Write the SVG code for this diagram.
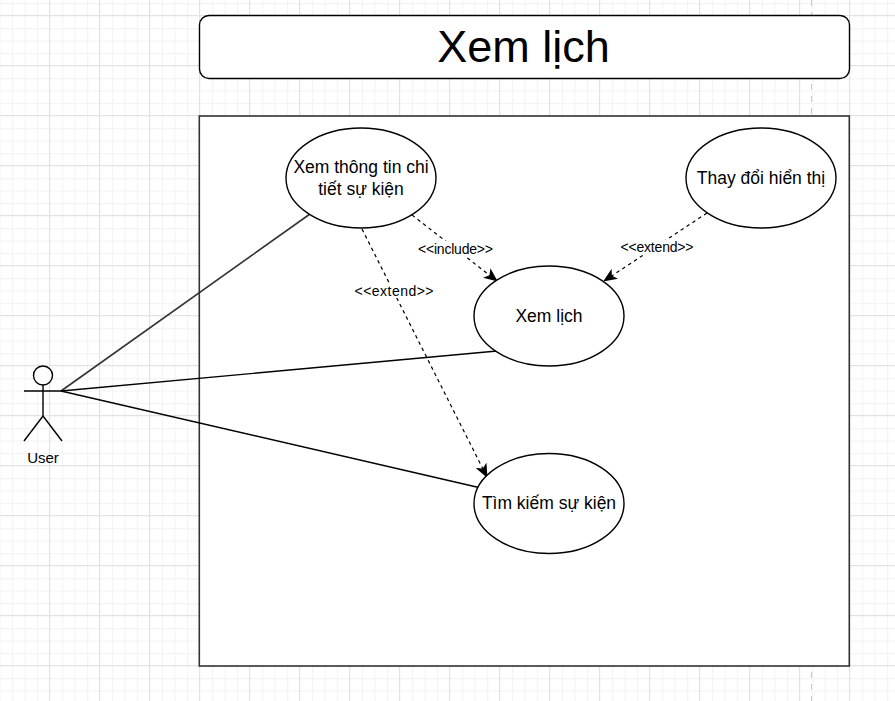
<svg xmlns="http://www.w3.org/2000/svg" width="895" height="701" viewBox="0 0 895 701">
<style>
.t{font-family:"Liberation Sans",Arial,sans-serif;fill:#000;text-anchor:middle}
.n{font-size:17.5px}
.l{font-size:14px}
.s{stroke:#000;stroke-width:1.4;fill:#fff}
.b{stroke:#333;stroke-width:1.6;fill:#fff}
.c{stroke:#000;stroke-width:1.4;fill:none}
.d{stroke-dasharray:3.500 3.500;stroke-width:1.2}
</style>
<defs>
<pattern id="minor" width="12.5" height="12.5" patternUnits="userSpaceOnUse" x="-0.500" y="3">
<path d="M0.500 0V12.500M0 0.500H12.500" stroke="#f4f4f4" stroke-width="1.400" fill="none"/>
</pattern>
<pattern id="major" width="50" height="50" patternUnits="userSpaceOnUse" x="49" y="15">
<path d="M0.500 0V50M0 0.500H50" stroke="#e2e2e2" stroke-width="1" fill="none"/>
</pattern>
<marker id="arrow" viewBox="0 0 14 12" refX="13" refY="6" markerWidth="14" markerHeight="12" markerUnits="userSpaceOnUse" orient="auto">
<path d="M0 0L14 6L0 12L3.500 6Z" fill="#000"/>
</marker>
</defs>
<g id="background">
<rect width="895" height="701" fill="#fff"/>
<rect width="895" height="701" fill="url(#minor)"/>
<rect width="895" height="701" fill="url(#major)"/>
<path d="M811.500 0V701" stroke="#c8c8c8" stroke-width="1" stroke-dasharray="6 6" fill="none"/>
</g>
<g id="title">
<rect class="s" x="199.500" y="15.500" width="650" height="63" rx="9.500" ry="9.500"/>
<text class="t" x="523.500" y="62" font-size="45px">Xem lịch</text>
</g>
<g id="boundary">
<rect class="b" x="199.300" y="116" width="650" height="550"/>
</g>
<g id="connectors">
<path class="c" d="M61 391L310 214" style="stroke:#333;stroke-width:1.6"/>
<path class="c" d="M61 391L497 351"/>
<path class="c" d="M61 391L481 488"/>
<path class="c d" d="M412 215L497 281" marker-end="url(#arrow)"/>
<path class="c d" d="M707 213L604 281" marker-end="url(#arrow)"/>
<path class="c d" d="M362 229L487 477" marker-end="url(#arrow)"/>
</g>
<g id="labels">
<rect x="417" y="241" width="77" height="15" fill="#fff"/>
<text class="t l" x="455.500" y="254" textLength="75" lengthAdjust="spacing">&lt;&lt;include&gt;&gt;</text>
<rect x="620" y="240" width="74" height="15" fill="#fff"/>
<text class="t l" x="657" y="252" textLength="73" lengthAdjust="spacing">&lt;&lt;extend&gt;&gt;</text>
<rect x="354" y="283" width="80" height="15" fill="#fff"/>
<text class="t l" x="394" y="296" textLength="79" lengthAdjust="spacing">&lt;&lt;extend&gt;&gt;</text>
</g>
<g id="uc-detail">
<ellipse class="s" cx="361" cy="178" rx="75" ry="50"/>
<text class="t n" x="361" y="173">Xem thông tin chi</text>
<text class="t n" x="361" y="195">tiết sự kiện</text>
</g>
<g id="uc-display">
<ellipse class="s" cx="761" cy="178" rx="75" ry="50"/>
<text class="t n" x="761" y="184">Thay đổi hiển thị</text>
</g>
<g id="uc-view">
<ellipse class="s" cx="549" cy="316" rx="75" ry="50"/>
<text class="t n" x="549" y="322">Xem lịch</text>
</g>
<g id="uc-search">
<ellipse class="s" cx="549" cy="503.500" rx="75" ry="50"/>
<text class="t n" x="549" y="509">Tìm kiếm sự kiện</text>
</g>
<g id="actor-user">
<circle class="s" cx="43" cy="375.500" r="9.500"/>
<path class="c" d="M43 385V416M24 391H62M43 416L24 441M43 416L62 441"/>
<text class="t" font-size="15px" x="43" y="463">User</text>
</g>
</svg>
